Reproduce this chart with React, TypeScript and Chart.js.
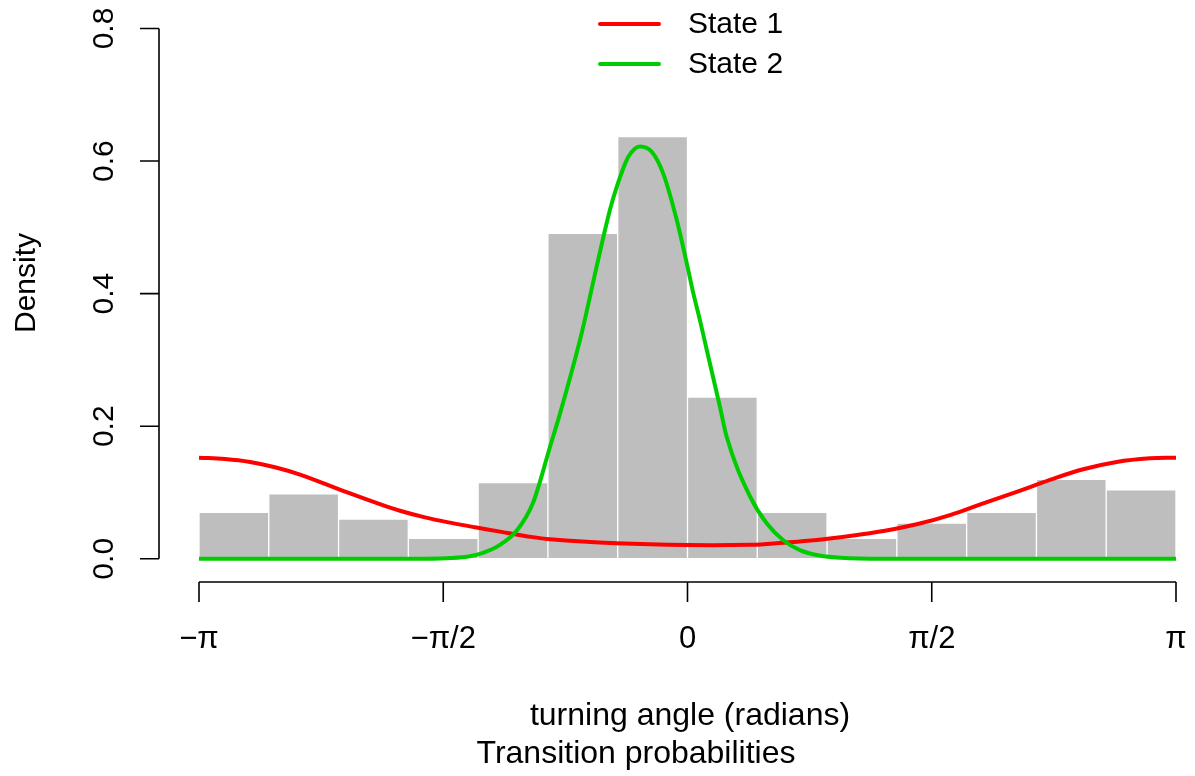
import React, { useEffect, useRef } from "react";
import { Chart, registerables } from "chart.js";

Chart.register(...registerables);

const PI = Math.PI;

// Histogram (bin centres in radians, density heights)
const binCenters = [
  -2.9172, -2.4684, -2.0196, -1.5708, -1.122, -0.6732, -0.2244,
  0.2244, 0.6732, 1.122, 1.5708, 2.0196, 2.4684, 2.9172,
];
const binDensity = [
  0.070, 0.098, 0.060, 0.031, 0.115, 0.491, 0.637,
  0.244, 0.070, 0.031, 0.054, 0.070, 0.120, 0.104,
];

// State 1 fitted density
const state1Angles = [
  -3.1416, -2.974, -2.813, -2.653, -2.492, -2.331, -2.17, -2.01, -1.849,
  -1.688, -1.527, -1.367, -1.206, -1.045, -0.884, -0.455, 0.0, 0.402,
  0.617, 0.831, 1.045, 1.259, 1.474, 1.688, 1.902, 2.117, 2.331, 2.545,
  2.76, 2.974, 3.1416,
];
const state1Density = [
  0.1525, 0.1505, 0.146, 0.138, 0.127, 0.113, 0.0985, 0.085, 0.0725,
  0.0625, 0.0545, 0.0475, 0.041, 0.0345, 0.0294, 0.0234, 0.0208, 0.0212,
  0.0243, 0.0283, 0.0344, 0.0419, 0.052, 0.066, 0.0837, 0.101, 0.119, 0.135,
  0.146, 0.1515, 0.1525,
];

// State 2 fitted density
const state2Angles = [
  -3.1416, -2.5, -1.74, -1.418, -1.315, -1.206, -1.096, -0.994, -0.884,
  -0.82, -0.681, -0.585, -0.499, -0.455, -0.381, -0.305, -0.23, -0.156,
  -0.069, -0.005, 0.038, 0.08, 0.124, 0.209, 0.252, 0.402, 0.509, 0.616,
  0.723, 0.831, 1.045, 1.367, 2.5, 3.1416,
];
const state2Density = [
  0, 0, 0, 0.003, 0.009, 0.021, 0.043, 0.084, 0.169,
  0.219, 0.34, 0.44, 0.526, 0.561, 0.606, 0.622, 0.614, 0.581,
  0.511, 0.446, 0.4, 0.36, 0.315, 0.229, 0.184, 0.094, 0.0535, 0.028,
  0.013, 0.0057, 0.0008, 0, 0, 0,
];

const seriesNames = ["State 1", "State 2"];
const seriesColors = ["#FF0000", "#00CD00"];

const xTickValues = [-PI, -PI / 2, 0, PI / 2, PI];
const xTickLabels = ["\u2212\u03C0", "\u2212\u03C0/2", "0", "\u03C0/2", "\u03C0"];
const yTickValues = [0, 0.2, 0.4, 0.6, 0.8];
const yTickLabels = ["0.0", "0.2", "0.4", "0.6", "0.8"];

const xTitle = "turning angle (radians)";
const subTitle = "Transition probabilities";
const yTitle = "Density";

const FAMILY = '"Liberation Sans", Arial, Helvetica, sans-serif';

function toPoints(xs: number[], ys: number[]) {
  return xs.map((a, i) => ({ x: a, y: ys[i] }));
}

const rStylePlugin = {
  id: "rStyle",
  afterDraw(chart: any) {
    const ctx = chart.ctx as CanvasRenderingContext2D;
    const x = chart.scales.x;
    const y = chart.scales.y;
    ctx.save();
    ctx.strokeStyle = "#000";
    ctx.fillStyle = "#000";
    ctx.lineWidth = 1.6;

    // y axis
    const yAxisX = 159;
    ctx.beginPath();
    ctx.moveTo(yAxisX, y.getPixelForValue(yTickValues[0]));
    ctx.lineTo(yAxisX, y.getPixelForValue(yTickValues[yTickValues.length - 1]));
    yTickValues.forEach((v) => {
      const py = y.getPixelForValue(v);
      ctx.moveTo(yAxisX, py);
      ctx.lineTo(yAxisX - 19, py);
    });
    ctx.stroke();
    ctx.font = "30px " + FAMILY;
    ctx.textAlign = "center";
    ctx.textBaseline = "alphabetic";
    yTickValues.forEach((v, i) => {
      const py = y.getPixelForValue(v);
      ctx.save();
      ctx.translate(113, py);
      ctx.rotate(-PI / 2);
      ctx.fillText(yTickLabels[i], 0, 0);
      ctx.restore();
    });

    // x axis
    const xAxisY = 582;
    ctx.beginPath();
    ctx.moveTo(x.getPixelForValue(xTickValues[0]), xAxisY);
    ctx.lineTo(x.getPixelForValue(xTickValues[xTickValues.length - 1]), xAxisY);
    xTickValues.forEach((v) => {
      const px = x.getPixelForValue(v);
      ctx.moveTo(px, xAxisY);
      ctx.lineTo(px, xAxisY + 20);
    });
    ctx.stroke();
    ctx.font = "31px " + FAMILY;
    xTickValues.forEach((v, i) => {
      const px = x.getPixelForValue(v);
      ctx.fillText(xTickLabels[i], px, 648);
    });

    // titles
    ctx.font = "32px " + FAMILY;
    ctx.fillText(xTitle, 690, 725);
    ctx.fillText(subTitle, 636, 763);
    ctx.font = "30px " + FAMILY;
    ctx.save();
    ctx.translate(35, 283);
    ctx.rotate(-PI / 2);
    ctx.fillText(yTitle, 0, 0);
    ctx.restore();

    // legend
    ctx.lineWidth = 4;
    ctx.lineCap = "round";
    ctx.textAlign = "left";
    ctx.textBaseline = "middle";
    seriesNames.forEach((name, i) => {
      const ly = 24 + i * 40;
      ctx.strokeStyle = seriesColors[i];
      ctx.beginPath();
      ctx.moveTo(600, ly);
      ctx.lineTo(659, ly);
      ctx.stroke();
      ctx.fillStyle = "#000";
      ctx.fillText(name, 688, ly + 1);
    });
    ctx.restore();
  },
};

export default function App() {
  const canvasRef = useRef<HTMLCanvasElement | null>(null);

  useEffect(() => {
    const canvas = canvasRef.current;
    if (!canvas) return;
    const chart = new Chart(canvas, {
      type: "bar",
      data: {
        datasets: [
          {
            type: "bar",
            label: "hist",
            data: binCenters.map((c, i) => ({ x: c, y: binDensity[i] })),
            backgroundColor: "#BEBEBE",
            borderColor: "#FFFFFF",
            borderWidth: 1,
            borderSkipped: false,
            barPercentage: 1,
            categoryPercentage: 1,
            order: 3,
          } as any,
          {
            type: "line",
            label: seriesNames[0],
            data: toPoints(state1Angles, state1Density),
            borderColor: seriesColors[0],
            borderWidth: 4,
            pointRadius: 0,
            tension: 0.4,
            order: 2,
          } as any,
          {
            type: "line",
            label: seriesNames[1],
            data: toPoints(state2Angles, state2Density),
            borderColor: seriesColors[1],
            borderWidth: 4,
            pointRadius: 0,
            cubicInterpolationMode: "monotone",
            order: 1,
          } as any,
        ],
      },
      options: {
        responsive: false,
        maintainAspectRatio: false,
        animation: false,
        devicePixelRatio: 1,
        layout: { padding: { left: 159, top: 7, right: 0, bottom: 196 } },
        scales: {
          x: {
            type: "linear",
            min: -3.3988,
            max: 3.2638,
            display: false,
            offset: false,
            afterBuildTicks: (s: any) => {
              s.ticks = xTickValues.map((v) => ({ value: v }));
            },
          },
          y: {
            type: "linear",
            min: -0.032,
            max: 0.8324,
            display: false,
          },
        },
        plugins: {
          legend: { display: false },
          tooltip: { enabled: false },
        },
      } as any,
      plugins: [rStylePlugin],
    });
    return () => chart.destroy();
  }, []);

  return (
    <div style={{ position: "fixed", left: 0, top: 0, width: 1195, height: 776, background: "#fff" }}>
      <canvas ref={canvasRef} width={1195} height={776} style={{ display: "block" }} />
    </div>
  );
}
